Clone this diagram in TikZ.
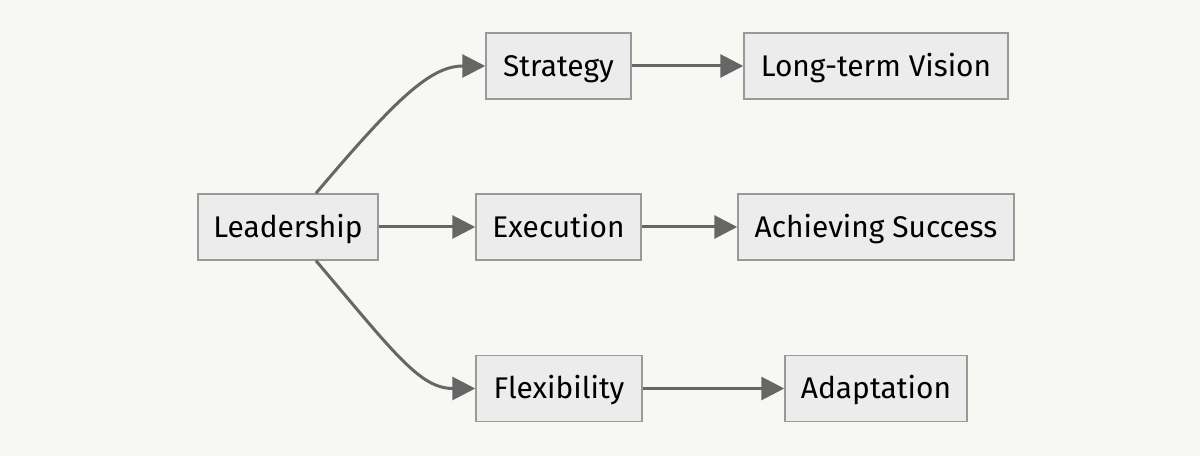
\documentclass[tikz,border=0pt]{standalone}
\usepackage{fontspec}
\setmainfont{Fira Sans}
\usetikzlibrary{arrows.meta}
\definecolor{bg}{HTML}{F7F7F3}
\definecolor{boxfill}{HTML}{ECECEC}
\definecolor{boxline}{HTML}{999999}
\definecolor{arrowc}{HTML}{666666}
\tikzset{
  box/.style={draw=boxline, fill=boxfill, line width=1.5bp, minimum height=66bp,
    inner sep=0pt, text height=21bp, text depth=0bp,
    font=\fontsize{30}{34}\selectfont, text=black},
  conn/.style={draw=arrowc, line width=3bp, -{Triangle[length=23bp,width=23bp]}}
}
\begin{document}
\begin{tikzpicture}[x=1bp,y=-1bp]
\fill[bg] (0,0) rectangle (1200,456);
\useasboundingbox (0,0) rectangle (1200,456);
\node[box, minimum width=180bp] (lead) at (288,227) {Leadership};
\node[box, minimum width=145bp] (strat) at (558.5,66) {Strategy};
\node[box, minimum width=264bp] (vision) at (876,66) {Long-term Vision};
\node[box, minimum width=165bp] (exec) at (558.5,227) {Execution};
\node[box, minimum width=276bp] (succ) at (876,227) {Achieving Success};
\node[box, minimum width=166bp] (flex) at (559,388.5) {Flexibility};
\node[box, minimum width=182bp] (adapt) at (876,388.5) {Adaptation};
\draw[conn] ([xshift=28bp]lead.north) .. controls (395,100) and (430,66) .. (strat.west);
\draw[conn] ([xshift=28bp]lead.south) .. controls (395,354) and (420,388.5) .. (flex.west);
\draw[conn] (lead.east) -- (exec.west);
\draw[conn] (strat.east) -- (vision.west);
\draw[conn] (exec.east) -- (succ.west);
\draw[conn] (flex.east) -- (adapt.west);
\end{tikzpicture}
\end{document}
